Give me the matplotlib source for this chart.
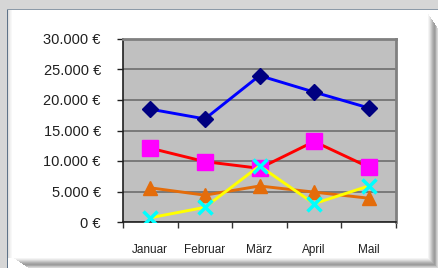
import numpy as np
import matplotlib.pyplot as plt
from matplotlib.patches import Rectangle
from matplotlib.ticker import FuncFormatter, FixedLocator

monate = ["Januar", "Februar", "März", "April", "Mail"]
blau = [18500, 16900, 24000, 21300, 18700]
rot = [12100, 9900, 8800, 13200, 9000]
orange = [5600, 4400, 5900, 4900, 3900]
gelb = [700, 2400, 9200, 3000, 5900]
yticks = [0, 5000, 10000, 15000, 20000, 25000, 30000]

plt.rcParams['font.family'] = ['Liberation Sans', 'DejaVu Sans']

W, H = 438, 268
fig = plt.figure(figsize=(W / 100, H / 100), dpi=100)
fig.patch.set_facecolor("#d6d6d6")

def px_rect(x0, y0, x1, y1, **kw):
    # rectangle in pixel coords, y from top
    fig.patches.append(Rectangle((x0 / W, 1 - y1 / H), (x1 - x0) / W, (y1 - y0) / H,
                                 transform=fig.transFigure, figure=fig, zorder=-10, **kw))

# panel with bevel
px_rect(7, 9, 438, 268, facecolor="#ffffff", edgecolor="none")
px_rect(7, 9, 8, 268, facecolor="#5f7388", edgecolor="none")
px_rect(7, 9, 438, 10, facecolor="#8c9aa8", edgecolor="none")
greys = ["#f4f4f4", "#e8e8e8", "#d8d8d8", "#c6c6c6", "#b4b4b4", "#a6a6a6", "#9c9c9c", "#a8a8a8", "#c4c4c4", "#d6d6d6"]
for i, g in enumerate(greys):
    px_rect(428 + i, 10 + i * 1.5 + 4, 429 + i, 268, facecolor=g, edgecolor="none")
    px_rect(14 + i * 1.5, 258 + i, 428 + i, 259 + i, facecolor=g, edgecolor="none")
for i, g in enumerate(["#e0e0e0", "#eaeaea", "#f2f2f2", "#f8f8f8"]):
    px_rect(8 + i, 10, 9 + i, 258, facecolor=g, edgecolor="none")

ax = fig.add_axes([123 / W, 46 / H, 273 / W, 183 / H])
ax.set_facecolor("#c0c0c0")
x = np.arange(len(monate))

ax.plot(x, blau, color="#0000ff", lw=2.1, marker="D", ms=8.5, mfc="#000080", mec="#000080", zorder=3)
ax.plot(x, rot, color="#ff0000", lw=2.1, marker="s", ms=11, mfc="#ff00ff", mec="#ff00ff", zorder=3)
ax.plot(x, orange, color="#e46c0a", lw=2.1, marker="^", ms=10, mfc="#e46c0a", mec="#e46c0a", zorder=3)
ax.plot(x, gelb, color="#ffff00", lw=2.1, marker="x", ms=10, mew=2.5, mfc="#00ffff", mec="#00ffff", zorder=4)

ax.set_xlim(-0.5, len(monate) - 0.5)
ax.set_ylim(0, 30000)
ax.set_yticks(yticks)
ax.yaxis.set_major_formatter(FuncFormatter(lambda v, p: f"{int(v):,} €".replace(",", ".")))
ax.grid(axis="y", color="#6e6e6e", lw=1.2)
ax.set_axisbelow(True)

ax.set_xticks(x)
ax.set_xticklabels(monate)
ax.xaxis.set_minor_locator(FixedLocator(np.arange(-0.5, len(monate), 1.0)))
ax.tick_params(axis="x", which="major", length=0, pad=16, labelsize=8.5, colors="#202020")
ax.tick_params(axis="x", which="minor", length=4, color="#333333", width=1)
ax.tick_params(axis="y", length=4, pad=12, labelsize=10.5, colors="#202020", width=1)
ax.tick_params(axis="both", labelcolor="#202020")

for s in ["top", "right"]:
    ax.spines[s].set_color("#808080")
    ax.spines[s].set_linewidth(2)
for s in ["left", "bottom"]:
    ax.spines[s].set_color("#202020")
    ax.spines[s].set_linewidth(1.2)

fig.savefig("out.png", dpi=100, facecolor=fig.get_facecolor())
